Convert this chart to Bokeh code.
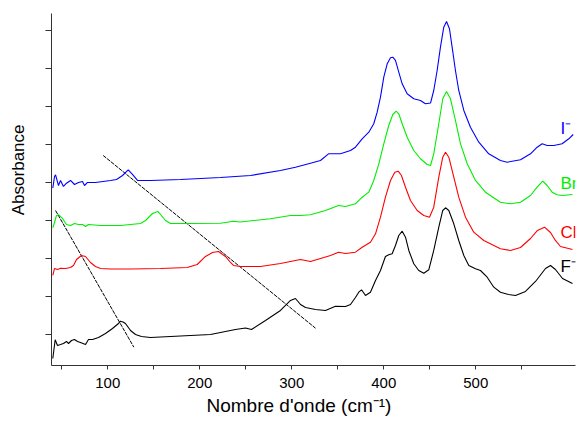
from bokeh.plotting import figure
from bokeh.models import Range1d, FixedTicker, Label, Title
from bokeh.embed import file_html
from bokeh.resources import INLINE

# F- (black)
f_x = [40.2, 42.8, 45.3, 48.6, 51.8, 55.1, 57.3, 60.5, 63.8, 67.1, 70.3, 75.8, 79.0, 83.4, 89.9,
       97.5, 105.1, 111.6, 113.8, 116.5, 119.2, 124.7, 130.1, 136.6, 146.4, 168.2, 189.9, 211.6,
       227.9, 238.8, 249.7, 256.2, 271.4, 287.7, 298.6, 304.0, 309.5, 314.9, 325.8, 336.6, 347.5,
       358.4, 363.8, 369.2, 372.8, 375.8, 380.1, 385.5, 391.0, 396.4, 401.8, 405.4, 409.1, 412.7,
       416.3, 420.0, 423.6, 427.2, 432.6, 438.0, 443.5, 448.9, 454.3, 459.8, 464.1, 467.1, 470.7,
       476.1, 481.5, 487.0, 492.4, 499.7, 505.1, 512.4, 519.6, 526.8, 535.5, 543.2, 554.0, 564.9,
       575.8, 581.2, 586.6, 594.3, 605.1]
f_y = [-0.632, -0.139, -0.289, -0.263, -0.237, -0.184, -0.237, -0.158, -0.132, -0.184, -0.211,
       -0.263, -0.132, -0.132, -0.079, 0.026, 0.158, 0.289, 0.350, 0.330, 0.289, 0.105, 0.0,
       -0.053, -0.079, -0.053, -0.026, 0.0, 0.079, 0.132, 0.171, 0.132, 0.368, 0.632, 0.895, 0.947,
       0.789, 0.711, 0.658, 0.632, 0.745, 0.737, 0.789, 0.974, 1.113, 1.176, 1.026, 1.113, 1.421,
       1.684, 2.053, 2.097, 2.124, 2.342, 2.605, 2.718, 2.561, 2.211, 1.861, 1.684, 1.613, 1.703,
       2.211, 2.824, 3.263, 3.334, 3.263, 2.913, 2.474, 2.079, 1.816, 1.729, 1.684, 1.508, 1.245,
       1.113, 1.053, 1.026, 1.132, 1.395, 1.737, 1.816, 1.711, 1.474, 1.342]

# Cl- (red)
cl_x = [40.2, 42.1, 45.3, 48.6, 54.0, 59.5, 62.7, 66.0, 71.4, 75.8, 81.2, 86.6, 92.1, 102.9, 124.7,
        157.3, 186.3, 197.2, 206.2, 213.8, 220.3, 227.9, 233.4, 236.6, 244.2, 265.9, 287.7, 304.0,
        309.5, 320.3, 331.2, 342.1, 350.8, 358.4, 369.2, 376.5, 385.5, 391.0, 396.4, 401.8, 407.3,
        412.0, 415.7, 419.2, 423.6, 429.0, 436.3, 443.5, 449.7, 454.3, 459.8, 464.1, 467.1, 470.7,
        476.1, 481.5, 488.8, 497.8, 508.7, 526.8, 537.7, 548.6, 559.5, 567.1, 574.7, 581.2, 586.6,
        592.1, 605.1]
cl_y = [1.553, 1.737, 1.711, 1.745, 1.737, 1.763, 1.816, 1.974, 2.079, 2.053, 1.895, 1.789, 1.737,
        1.724, 1.724, 1.737, 1.763, 1.842, 2.053, 2.158, 2.184, 2.053, 1.895, 1.816, 1.789, 1.789,
        1.868, 1.947, 1.974, 1.921, 2.0, 2.079, 2.166, 2.132, 2.166, 2.297, 2.429, 2.650, 3.087,
        3.613, 4.053, 4.271, 4.297, 4.184, 3.876, 3.526, 3.263, 3.132, 3.087, 3.350, 4.139, 4.666,
        4.797, 4.666, 4.139, 3.613, 3.087, 2.692, 2.474, 2.255, 2.211, 2.289, 2.526, 2.737, 2.824,
        2.684, 2.474, 2.316, 2.237]

# Br- (green)
br_x = [40.2, 42.1, 44.2, 46.7, 50.8, 55.1, 59.5, 63.8, 68.2, 72.5, 75.8, 79.0, 92.1, 113.8, 135.5,
        141.0, 148.6, 154.3, 157.3, 162.7, 168.2, 189.9, 222.5, 236.6, 244.2, 276.8, 298.6, 309.5,
        320.3, 336.6, 350.8, 358.4, 369.2, 376.5, 383.7, 389.1, 394.6, 400.0, 405.4, 409.8, 413.5,
        416.3, 420.0, 425.4, 432.6, 439.9, 447.2, 450.8, 454.3, 459.8, 464.1, 468.2, 472.5, 477.9,
        483.4, 490.7, 499.7, 510.5, 526.8, 537.7, 548.6, 559.5, 566.7, 572.8, 577.6, 583.0, 588.5,
        593.9, 605.1]
br_y = [2.808, 2.947, 3.132, 3.150, 3.053, 2.895, 2.868, 2.921, 2.895, 2.895, 2.842, 2.895, 2.868,
        2.868, 2.921, 3.0, 3.184, 3.237, 3.158, 3.0, 2.921, 2.921, 2.929, 2.982, 2.961, 3.045, 3.132,
        3.132, 3.150, 3.263, 3.395, 3.368, 3.439, 3.613, 3.745, 4.053, 4.492, 5.018, 5.5, 5.789,
        5.876, 5.808, 5.545, 5.192, 4.842, 4.624, 4.474, 4.447, 4.755, 5.545, 6.203, 6.395, 6.203,
        5.632, 5.018, 4.492, 4.053, 3.745, 3.482, 3.439, 3.482, 3.658, 3.876, 4.034, 3.921, 3.745,
        3.676, 3.658, 3.684]

# I- (blue)
i_x = [40.2, 42.1, 43.2, 46.4, 48.6, 51.8, 55.1, 59.5, 63.8, 68.2, 72.5, 74.7, 77.9, 86.6, 102.9,
       109.5, 116.0, 122.2, 126.8, 132.3, 146.4, 179.0, 222.5, 255.1, 287.7, 304.0, 320.3, 331.2,
       339.9, 352.9, 363.8, 369.2, 376.5, 383.7, 389.1, 392.8, 396.4, 400.0, 403.7, 407.3, 409.8,
       412.7, 416.3, 420.0, 425.4, 432.6, 439.9, 445.3, 450.8, 454.3, 458.0, 461.6, 465.2, 468.2,
       471.4, 474.3, 477.9, 481.5, 487.0, 494.2, 503.3, 514.1, 526.8, 534.1, 548.6, 559.5, 566.7,
       572.2, 577.6, 584.8, 593.9, 601.1, 605.9]
i_y = [3.850, 4.158, 4.203, 3.921, 4.053, 3.895, 3.982, 4.053, 3.947, 4.0, 4.026, 3.921, 4.0, 4.0,
       4.053, 4.079, 4.184, 4.334, 4.211, 4.053, 4.053, 4.079, 4.132, 4.184, 4.316, 4.403, 4.508,
       4.579, 4.755, 4.755, 4.842, 4.929, 5.150, 5.324, 5.545, 5.850, 6.245, 6.771, 7.124, 7.282,
       7.297, 7.211, 6.903, 6.597, 6.334, 6.203, 6.158, 6.071, 6.090, 6.421, 6.947, 7.561, 8.087,
       8.237, 8.045, 7.561, 6.947, 6.421, 5.895, 5.455, 5.061, 4.755, 4.579, 4.534, 4.597, 4.755,
       4.929, 5.018, 4.974, 4.974, 5.018, 5.150, 5.263]

# dashed guide lines
guide1_x = [43.2, 128.3]
guide1_y = [3.263, -0.334]
guide2_x = [95.0, 325.8]
guide2_y = [4.711, 0.166]

x_ticks = [100, 200, 300, 400, 500]
x_minor = [50, 150, 250, 350, 450, 550]
y_ticks = [0, 1, 2, 3, 4, 5, 6, 7, 8]

series_names = ["I⁻", "Br⁻", "Cl⁻", "F⁻"]
series_label_y = [5.42, 3.97, 2.68, 1.79]
series_colors = ["#0000ff", "#00ee00", "#ff0000", "#000000"]

FONT = "Liberation Sans"

p = figure(width=576, height=422, output_backend="svg", toolbar_location=None,
           x_range=Range1d(38.8, 608.4), y_range=Range1d(-0.816, 8.447),
           min_border_left=51, min_border_right=1, min_border_top=13, min_border_bottom=57)
p.outline_line_color = None
p.grid.visible = False

p.line(guide1_x, guide1_y, line_color="black", line_width=1, line_dash="4 1")
p.line(guide2_x, guide2_y, line_color="black", line_width=1, line_dash="4 1")

for xs, ys, c in [(f_x, f_y, series_colors[3]), (cl_x, cl_y, series_colors[2]),
                  (br_x, br_y, series_colors[1]), (i_x, i_y, series_colors[0])]:
    p.line(xs, ys, line_color=c, line_width=1.1)

xa = p.xaxis[0]
xa.ticker = FixedTicker(ticks=x_ticks, minor_ticks=x_minor)
xa.major_tick_out = 4
xa.major_tick_in = 0
xa.minor_tick_out = 4
xa.minor_tick_in = 0
xa.major_label_standoff = 8
xa.major_label_text_font = FONT
xa.major_label_text_font_size = "15px"
xa.major_label_text_color = "black"
xa.axis_line_color = "#333333"
xa.major_tick_line_color = "#333333"
xa.minor_tick_line_color = "#333333"

ya = p.yaxis[0]
ya.ticker = FixedTicker(ticks=y_ticks, minor_ticks=[])
ya.major_label_overrides = {t: "" for t in y_ticks}
ya.major_tick_out = 6
ya.major_tick_in = 0
ya.minor_tick_line_color = None
ya.axis_line_color = "#333333"
ya.major_tick_line_color = "#333333"
# blank axis label used only as spacing between the axis and the "Absorbance" title
ya.axis_label = " "
ya.axis_label_text_font_size = "10px"
ya.axis_label_standoff = 2

p.add_layout(Title(text="Nombre d'onde (cm⁻¹)", align="left", offset=155, standoff=4,
                   text_font=FONT, text_font_size="19px", text_font_style="normal",
                   text_color="black"), "below")
p.add_layout(Title(text="Absorbance", align="right", offset=111, standoff=4,
                   text_font=FONT, text_font_size="17px", text_font_style="normal",
                   text_color="black"), "left")

for name, yv, c in zip(series_names, series_label_y, series_colors):
    p.add_layout(Label(x=592.1, y=yv, text=name, text_align="left", text_baseline="middle",
                       text_font=FONT, text_font_size="17px", text_color=c))

open("out.html", "w").write(file_html(p, INLINE))
